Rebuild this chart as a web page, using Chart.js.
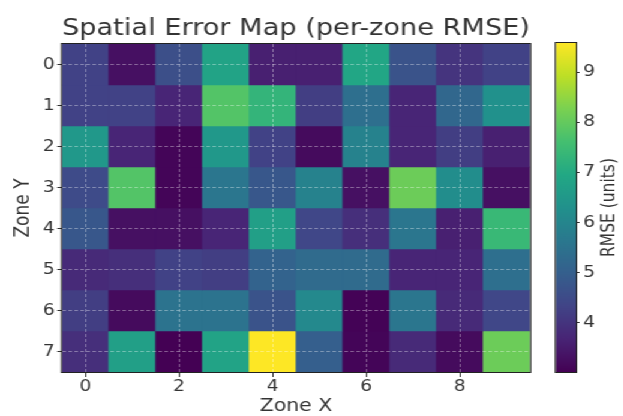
<!DOCTYPE html>
<html>
<head>
<meta charset="utf-8">
<script src="https://cdn.jsdelivr.net/npm/chart.js@4.4.0/dist/chart.umd.min.js"></script>
<style>
  html, body { margin: 0; padding: 0; background: #fff; overflow: hidden; }
  /* the reference figure is stretched sideways, so draw narrower and widen */
  #wrap { position: relative; width: 519px; height: 416px; transform: scaleX(1.2); transform-origin: 0 0; }
  #heat { position: absolute; left: 0; top: 0; }
  #cbar { position: absolute; left: 450px; top: 0; }
</style>
</head>
<body>
<div id="wrap">
  <canvas id="heat" width="450" height="416"></canvas>
  <canvas id="cbar" width="69" height="416"></canvas>
</div>
<script>
// zones and tick labels
const zoneX = [0, 1, 2, 3, 4, 5, 6, 7, 8, 9];
const zoneY = [0, 1, 2, 3, 4, 5, 6, 7];
const xTickLabels = [0, 2, 4, 6, 8];
const cbTicks = [4, 5, 6, 7, 8, 9];

// per-zone RMSE, one array per Zone Y row
const rmseRow0 = [4.3, 3.3, 4.6, 6.8, 3.6, 3.6, 6.9, 4.7, 4.0, 4.3];
const rmseRow1 = [4.3, 4.3, 3.7, 7.8, 7.3, 4.2, 5.4, 3.7, 5.2, 6.3];
const rmseRow2 = [6.5, 3.7, 3.1, 6.5, 4.3, 3.2, 5.9, 3.7, 4.2, 3.6];
const rmseRow3 = [4.5, 7.8, 3.1, 5.6, 4.8, 5.9, 3.3, 8.1, 6.2, 3.3];
const rmseRow4 = [4.8, 3.3, 3.3, 3.7, 6.7, 4.4, 3.9, 5.6, 3.6, 7.4];
const rmseRow5 = [3.8, 3.9, 4.3, 4.2, 5.1, 5.3, 5.3, 3.7, 3.7, 5.4];
const rmseRow6 = [4.2, 3.2, 5.5, 5.5, 4.7, 6.1, 3.05, 5.6, 3.8, 4.4];
const rmseRow7 = [3.9, 6.7, 3.02, 6.8, 9.58, 5.0, 3.1, 3.8, 3.2, 8.1];
const rmse = [rmseRow0, rmseRow1, rmseRow2, rmseRow3, rmseRow4, rmseRow5, rmseRow6, rmseRow7];

const vmin = Math.min(...rmse.flat());
const vmax = Math.max(...rmse.flat());

// viridis colour map
const viridisStops = ['#440154', '#482475', '#414487', '#355f8d', '#2a788e', '#21918c',
  '#22a884', '#44bf70', '#7ad151', '#bddf26', '#fde725'];

function hexToRgb(h) {
  return [parseInt(h.substr(1, 2), 16), parseInt(h.substr(3, 2), 16), parseInt(h.substr(5, 2), 16)];
}

function viridis(t) {
  t = Math.max(0, Math.min(1, t));
  const n = viridisStops.length - 1;
  const i = Math.min(Math.floor(t * n), n - 1);
  const f = t * n - i;
  const a = hexToRgb(viridisStops[i]);
  const b = hexToRgb(viridisStops[i + 1]);
  const c = a.map((v, k) => Math.round(v + (b[k] - v) * f));
  return 'rgb(' + c.join(',') + ')';
}

Chart.defaults.font.family = 'DejaVu Sans';
Chart.defaults.color = '#333';

const gridColor = 'rgba(255,255,255,0.45)';
const tickFont = { size: 15.5 };
const labelFont = { size: 17, lineHeight: 1 };

// one floating-bar dataset per row, stacked on x so they share the column
const datasets = zoneY.map((y, r) => ({
  label: 'Zone Y ' + y,
  data: zoneX.map(() => [y - 0.5, y + 0.5]),
  backgroundColor: rmse[r].map(v => viridis((v - vmin) / (vmax - vmin))),
  borderWidth: 0,
  barPercentage: 1,
  categoryPercentage: 1
}));

const frame = {
  id: 'frame',
  afterDraw(chart) {
    const a = chart.chartArea;
    const ctx = chart.ctx;
    ctx.save();
    ctx.strokeStyle = '#222';
    ctx.lineWidth = 1;
    ctx.strokeRect(a.left - 0.5, Math.round(a.top) - 0.5, a.right - a.left + 1, Math.round(a.bottom - a.top) + 1);
    ctx.restore();
  }
};

new Chart(document.getElementById('heat'), {
  type: 'bar',
  data: { labels: zoneX, datasets: datasets },
  options: {
    responsive: false,
    animation: false,
    events: [],
    devicePixelRatio: 1,
    layout: { padding: { right: 8.3 } },
    plugins: {
      legend: { display: false },
      tooltip: { enabled: false },
      title: {
        display: true,
        text: 'Spatial Error Map (per-zone RMSE)',
        fullSize: false,
        color: '#333',
        font: { size: 23.5, weight: 'normal' },
        padding: { top: 14.5, bottom: 1.3 }
      }
    },
    scales: {
      x: {
        stacked: true,
        offset: true,
        grid: {
          offset: false,
          z: 1,
          lineWidth: 0.8,
          color: ctx => xTickLabels.includes(zoneX[ctx.index]) ? gridColor : 'rgba(0,0,0,0)',
          tickColor: ctx => xTickLabels.includes(zoneX[ctx.index]) ? '#333' : 'rgba(0,0,0,0)',
          tickLength: 5,
          tickWidth: 1,
          tickBorderDash: []
        },
        border: { display: false, dash: [3, 2] },
        ticks: {
          autoSkip: false,
          maxRotation: 0,
          padding: 1,
          font: tickFont,
          color: '#333',
          callback: (v, i) => xTickLabels.includes(zoneX[i]) ? String(zoneX[i]) : ''
        },
        title: { display: true, text: 'Zone X', font: labelFont, color: '#333', padding: { top: 0, bottom: 1 } },
        afterFit: s => { s.height = 44; }
      },
      y: {
        type: 'linear',
        reverse: true,
        min: -0.5,
        max: 7.5,
        afterBuildTicks: s => { s.ticks = zoneY.map(v => ({ value: v })); },
        grid: {
          z: 1,
          lineWidth: 0.8,
          color: gridColor,
          tickColor: '#333',
          tickLength: 4,
          tickWidth: 1,
          tickBorderDash: []
        },
        border: { display: false, dash: [3, 2] },
        ticks: { padding: 2, font: tickFont, color: '#333' },
        title: { display: true, text: 'Zone Y', font: labelFont, color: '#333', padding: { top: 11.5, bottom: 0 } },
        afterFit: s => { s.width = 51.7; }
      }
    }
  },
  plugins: [frame]
});

// colour bar
const cbTitle = {
  id: 'cbTitle',
  afterDraw(chart) {
    const a = chart.chartArea;
    const ctx = chart.ctx;
    ctx.save();
    ctx.translate(58.3, (a.top + a.bottom) / 2);
    ctx.rotate(-Math.PI / 2);
    ctx.font = '15.5px "DejaVu Sans"';
    ctx.fillStyle = '#333';
    ctx.textAlign = 'center';
    ctx.textBaseline = 'middle';
    ctx.fillText('RMSE (units)', 0, 0);
    ctx.restore();
  }
};

new Chart(document.getElementById('cbar'), {
  type: 'bar',
  data: {
    labels: [''],
    datasets: [{
      data: [[vmin, vmax]],
      backgroundColor: ctx => {
        const a = ctx.chart.chartArea;
        if (!a) return viridisStops[0];
        const g = ctx.chart.ctx.createLinearGradient(0, a.bottom, 0, a.top);
        viridisStops.forEach((c, i) => g.addColorStop(i / (viridisStops.length - 1), c));
        return g;
      },
      borderWidth: 0,
      barPercentage: 1,
      categoryPercentage: 1
    }]
  },
  options: {
    responsive: false,
    animation: false,
    events: [],
    devicePixelRatio: 1,
    layout: { padding: { left: 13.3, top: 43, bottom: 44, right: 0 } },
    plugins: { legend: { display: false }, tooltip: { enabled: false } },
    scales: {
      x: { display: false },
      y: {
        position: 'right',
        min: vmin,
        max: vmax,
        afterBuildTicks: s => { s.ticks = cbTicks.map(v => ({ value: v })); },
        grid: { drawOnChartArea: false, tickColor: '#333', tickLength: 3 },
        border: { display: false },
        ticks: { padding: 3, font: tickFont, color: '#333' },
        afterFit: s => { s.width = 39; }
      }
    }
  },
  plugins: [frame, cbTitle]
});
</script>
</body>
</html>
